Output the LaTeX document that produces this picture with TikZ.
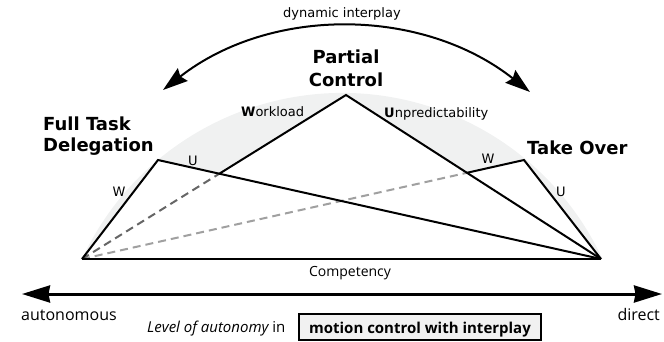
\documentclass[tikz,border=0pt]{standalone}
\usepackage{fontspec}
\setmainfont{DejaVu Sans}
\newfontfamily\myr{Open Sans}
\usetikzlibrary{arrows.meta}
\definecolor{bandgray}{HTML}{F0F1F1}
\definecolor{dashdark}{HTML}{666666}
\definecolor{dashlight}{HTML}{A0A0A0}
\definecolor{boxgray}{HTML}{F1F1F1}
\tikzset{
  bigtip/.tip={Stealth[length=28pt,width=17pt,inset=1.5pt]},
  arctip/.tip={Stealth[length=25pt,width=16pt,inset=3pt]}}
\begin{document}
\begin{tikzpicture}[x=1pt,y=-1pt,
  edge/.style={line width=2pt, line join=miter},
  hid/.style={line width=2pt, dash pattern=on 8pt off 5pt},
  lab/.style={font=\fontsize{13}{15}\selectfont, inner sep=0pt},
  ttl/.style={font=\fontsize{18}{21}\selectfont\bfseries, inner sep=0pt},
  axlab/.style={font=\myr\fontsize{16}{18}\selectfont, inner sep=0pt}]
\useasboundingbox (0,0) rectangle (664,342);
% vertices
\coordinate (A) at (82,259);
\coordinate (B) at (601,259);
\coordinate (F) at (158,160);
\coordinate (P) at (346,95);
\coordinate (T) at (524,160);
\coordinate (I1) at (intersection of A--P and F--B);
\coordinate (I2) at (intersection of A--T and P--B);
% grey band
\fill[bandgray] (A) arc[start angle=-155.07, end angle=-24.97, radius=287] -- cycle;
% white triangles
\fill[white] (A) -- (F) -- (B) -- cycle;
\fill[white] (A) -- (P) -- (B) -- cycle;
\fill[white] (A) -- (T) -- (B) -- cycle;
% hidden parts
\draw[hid, dashlight] (A) -- (I2);
\draw[hid, dashdark] (A) -- (I1);
% edges
\draw[edge] (A) -- (B);
\draw[edge] (A) -- (F) -- (B);
\draw[edge] (I1) -- (P) -- (B);
\draw[edge] (I2) -- (T) -- (B);
% edge labels
\node[lab, anchor=base] (fw) at (119,196) {W};
\node[lab, anchor=base] (fu) at (193,165) {U};
\node[lab, anchor=base west] (pw) at (241,116.7) {\textbf{W}orkload};
\node[lab, anchor=base west] (pu) at (384,117.3) {\textbf{U}npredictability};
\node[lab, anchor=base] (tw) at (488,164) {W};
\node[lab, anchor=base] (tu) at (561,196) {U};
\node[inner sep=0pt, font=\myr\fontsize{14}{16}\selectfont, anchor=base] (comp) at (350,276) {Competency};
% titles
\node[ttl, align=left, anchor=north west] (ftd) at (43,116.3) {Full Task\\Delegation};
\node[ttl, align=center, anchor=north, font=\fontsize{18}{23}\selectfont\bfseries] (pc) at (346,49.6) {Partial\\Control};
\node[ttl, anchor=base west] (to) at (527,155) {Take Over};
% dynamic interplay arc
\coordinate (arcL) at (163,90);
\coordinate (arcR) at (530,92);
\draw[line width=2pt, arctip-arctip] (arcL) .. controls (270.9,5.8) and (422.7,7.2) .. (arcR);
\node[lab, anchor=base] (dyn) at (342,18) {dynamic interplay};
% autonomy axis
\coordinate (axL) at (22,294);
\coordinate (axR) at (662,294);
\draw[line width=3pt, bigtip-bigtip] (axL) -- (axR);
\node[axlab, anchor=base west] (auto) at (21,320) {autonomous};
\node[axlab, anchor=base east] (dir) at (660,320) {direct};
\node[inner sep=0pt, font=\myr\fontsize{15}{17}\selectfont, anchor=base west] (lvl) at (147,332) {\itshape Level of autonomy\upshape{} in};
\node[draw, line width=2pt, fill=boxgray, inner ysep=0pt, inner xsep=0pt, minimum width=242pt, text height=19pt, text depth=7pt, anchor=base, font=\myr\fontsize{15}{17}\selectfont\bfseries] (box) at (420,333) {motion control with interplay};
\end{tikzpicture}
\end{document}
